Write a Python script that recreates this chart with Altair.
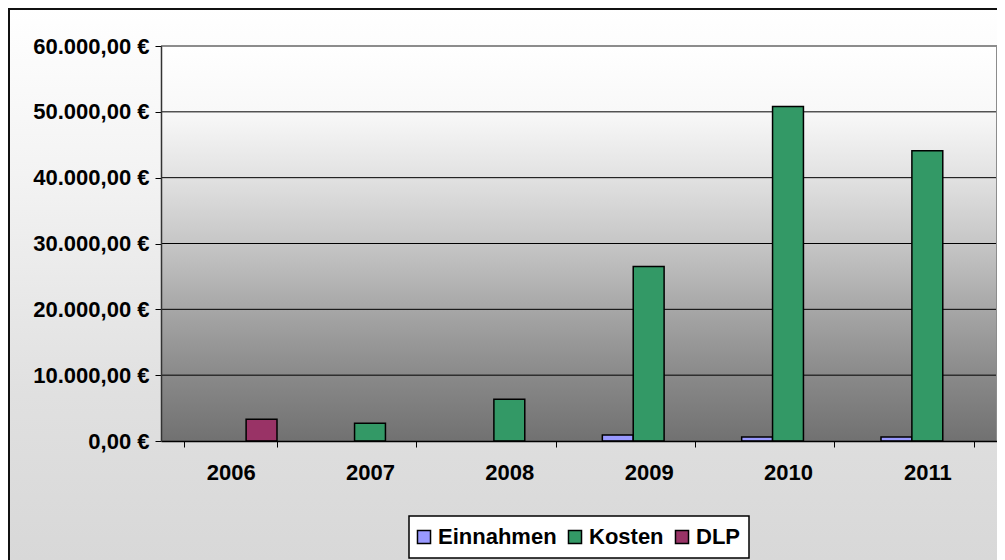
import altair as alt
import pandas as pd

# ---- data ----
years = ["2006", "2007", "2008", "2009", "2010", "2011"]
series = ["Einnahmen", "Kosten", "DLP"]
colors = ["#9999FF", "#339966", "#993366"]
einnahmen = [None, None, None, 900, 600, 600]
kosten = [None, 2700, 6350, 26500, 50800, 44100]
dlp = [3300, None, None, None, None, None]
y_ticks = [0, 10000, 20000, 30000, 40000, 50000, 60000]
y_labels = ["0,00 €", "10.000,00 €", "20.000,00 €", "30.000,00 €",
            "40.000,00 €", "50.000,00 €", "60.000,00 €"]

rows = []
for name, vals in zip(series, [einnahmen, kosten, dlp]):
    for yr, v in zip(years, vals):
        if v is not None:
            rows.append({"Jahr": yr, "Serie": name, "Wert": v})
bars_df = pd.DataFrame(rows)
grid_df = pd.DataFrame({"Wert": y_ticks[1:-1]})
one = pd.DataFrame({"k": [0]})

# ---- layout ----
W, H = 836, 395
PL, PT, PR, PB = 153, 38, 0, 119
FONT = "Liberation Sans"

label_expr = ""
for v, lab in zip(y_ticks, y_labels):
    label_expr += f"datum.value === {v} ? '{lab}' : "
label_expr += "''"

yscale = alt.Scale(domain=[y_ticks[0], y_ticks[-1]], nice=False, zero=True)
yaxis = alt.Axis(values=y_ticks, labelExpr=label_expr, title=None, grid=False,
                 tickSize=6, tickColor="black", domainColor="#333333",
                 domainWidth=1.5, labelPadding=6, labelFontSize=22,
                 labelFont=FONT, labelFontWeight="bold", labelColor="black",
                 zindex=1)
xaxis = alt.Axis(title=None, labelAngle=0, tickBand="extent", tickSize=6,
                 tickColor="black", domainColor="black", domainWidth=1.5,
                 labelPadding=15, labelFontSize=22, labelFont=FONT,
                 labelFontWeight="bold", labelColor="black", grid=False,
                 zindex=1)

outer_grad = alt.LinearGradient(
    gradient="linear", x1=0, x2=0, y1=0, y2=1,
    stops=[alt.GradientStop(offset=0, color="#FFFFFF"),
           alt.GradientStop(offset=0.3, color="#F3F3F3"),
           alt.GradientStop(offset=0.7, color="#E0E0E0"),
           alt.GradientStop(offset=1, color="#D8D8D8")])
plot_grad = alt.LinearGradient(
    gradient="linear", x1=0, x2=0, y1=0, y2=1,
    stops=[alt.GradientStop(offset=0, color="#FFFFFF"),
           alt.GradientStop(offset=0.17, color="#F8F8F8"),
           alt.GradientStop(offset=0.33, color="#E2E2E2"),
           alt.GradientStop(offset=0.5, color="#C6C6C6"),
           alt.GradientStop(offset=0.67, color="#A6A6A6"),
           alt.GradientStop(offset=0.83, color="#8A8A8A"),
           alt.GradientStop(offset=1, color="#717171")])

outer_bg = alt.Chart(one).mark_rect(fill=outer_grad, strokeWidth=0).encode(
    x=alt.value(-PL), x2=alt.value(W + PR + 20), y=alt.value(-PT), y2=alt.value(H + PB))
outer_left = alt.Chart(one).mark_rule(color="#111111", strokeWidth=2).encode(
    x=alt.value(-PL + 1), y=alt.value(-PT), y2=alt.value(H + PB))
outer_top = alt.Chart(one).mark_rule(color="#111111", strokeWidth=2).encode(
    y=alt.value(-PT + 1), x=alt.value(-PL), x2=alt.value(W + PR + 20))
plot_bg = alt.Chart(one).mark_rect(fill=plot_grad, strokeWidth=0).encode(
    x=alt.value(0), x2=alt.value(W), y=alt.value(0), y2=alt.value(H))

grid = alt.Chart(grid_df).mark_rule(color="black", strokeWidth=1).encode(
    y=alt.Y("Wert:Q", scale=yscale, axis=yaxis))
top_border = alt.Chart(one).mark_rule(color="#8C8C8C", strokeWidth=2).encode(
    y=alt.value(0), x=alt.value(0), x2=alt.value(W))
right_border = alt.Chart(one).mark_rule(color="#8C8C8C", strokeWidth=2).encode(
    x=alt.value(W), y=alt.value(0), y2=alt.value(H))

# legend frame (box drawn behind the legend entries)
legend_box = alt.Chart(one).mark_rect(fill="white", stroke="black", strokeWidth=1.5).encode(
    x=alt.value(248), x2=alt.value(588), y=alt.value(470), y2=alt.value(512))

bars = alt.Chart(bars_df).mark_bar(stroke="black", strokeWidth=1.5, opacity=1).encode(
    x=alt.X("Jahr:N", sort=years, axis=xaxis,
            scale=alt.Scale(domain=years, paddingInner=0.335, paddingOuter=0.1675)),
    xOffset=alt.XOffset("Serie:N", sort=series,
                        scale=alt.Scale(domain=series, paddingInner=0, paddingOuter=0)),
    y=alt.Y("Wert:Q", scale=yscale, axis=yaxis),
    color=alt.Color("Serie:N", sort=series,
                    scale=alt.Scale(domain=series, range=colors),
                    legend=alt.Legend(
                        title=None, orient="none", legendX=252, legendY=480,
                        direction="horizontal", columns=3, padding=0,
                        symbolType="square", symbolSize=170,
                        symbolStrokeColor="black", symbolStrokeWidth=1.5,
                        labelFont=FONT, labelFontSize=22, labelFontWeight="bold",
                        labelColor="black", labelOffset=3, columnPadding=7,
                        zindex=2)),
)

chart = alt.layer(outer_bg, outer_left, outer_top, plot_bg, grid, top_border,
                  right_border, legend_box, bars).properties(
    width=W, height=H,
    padding={"left": PL, "top": PT, "right": PR, "bottom": PB},
    autosize=alt.AutoSizeParams(type="none"),
).configure_view(stroke=None).configure(background="white")

chart.save("out.html", embed_options={"renderer": "svg", "actions": False})
